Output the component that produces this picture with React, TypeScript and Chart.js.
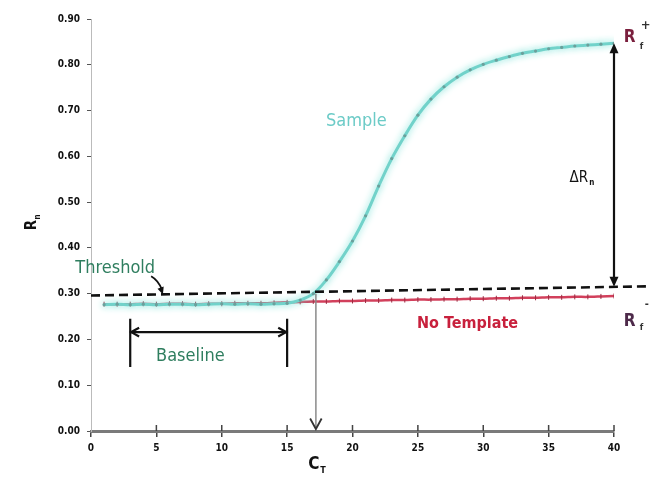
import React, { useEffect, useRef } from 'react';
import { Chart, registerables } from 'chart.js';

Chart.register(...registerables);

// ---- data ----
const cycles = [
  1, 2, 3, 4, 5, 6, 7, 8, 9, 10,
  11, 12, 13, 14, 15, 16, 17, 18, 19, 20,
  21, 22, 23, 24, 25, 26, 27, 28, 29, 30,
  31, 32, 33, 34, 35, 36, 37, 38, 39, 40,
];
const sampleRn = [
  0.276, 0.277, 0.276, 0.277, 0.276, 0.277, 0.277, 0.276, 0.277, 0.278,
  0.277, 0.278, 0.277, 0.278, 0.279, 0.286, 0.3, 0.33, 0.37, 0.415,
  0.47, 0.535, 0.595, 0.645, 0.69, 0.725, 0.752, 0.773, 0.789, 0.801,
  0.81, 0.818, 0.825, 0.83, 0.835, 0.838, 0.841, 0.843, 0.845, 0.847,
];
const noTemplateRn = [
  0.277, 0.277, 0.277, 0.278, 0.277, 0.278, 0.278, 0.277, 0.278, 0.278,
  0.279, 0.279, 0.279, 0.28, 0.281, 0.282, 0.283, 0.283, 0.284, 0.284,
  0.285, 0.285, 0.286, 0.286, 0.287, 0.287, 0.288, 0.288, 0.289, 0.289,
  0.29, 0.29, 0.291, 0.291, 0.292, 0.292, 0.293, 0.293, 0.294, 0.295,
];
const thresholdCycles = [0, 42.5];
const thresholdRn = [0.296, 0.316];
const xTicks = [0, 5, 10, 15, 20, 25, 30, 35, 40];
const yTicks = [0, 0.1, 0.2, 0.3, 0.4, 0.5, 0.6, 0.7, 0.8, 0.9];
const baselineCycles = [3, 15];
const ctCycle = 17.2;
const deltaRnRange = [0.315, 0.847];

const NARROW = "'Liberation Sans Narrow', 'DejaVu Sans Condensed', sans-serif";

function filledHead(ctx: CanvasRenderingContext2D, x: number, y: number, ang: number, size: number) {
  ctx.beginPath();
  ctx.moveTo(x, y);
  ctx.lineTo(x - size * Math.cos(ang - 0.42), y - size * Math.sin(ang - 0.42));
  ctx.lineTo(x - size * Math.cos(ang + 0.42), y - size * Math.sin(ang + 0.42));
  ctx.closePath();
  ctx.fill();
}

function openHead(ctx: CanvasRenderingContext2D, x: number, y: number, ang: number, size: number) {
  ctx.beginPath();
  ctx.moveTo(x - size * Math.cos(ang - 0.5), y - size * Math.sin(ang - 0.5));
  ctx.lineTo(x, y);
  ctx.lineTo(x - size * Math.cos(ang + 0.5), y - size * Math.sin(ang + 0.5));
  ctx.stroke();
}

const glowPlugin = {
  id: 'glow',
  beforeDatasetDraw(chart: any, args: any) {
    if (args.index === 1) {
      const ctx = chart.ctx;
      ctx.save();
      ctx.shadowColor = 'rgba(120,225,215,0.95)';
      ctx.shadowBlur = 7;
    }
  },
  afterDatasetDraw(chart: any, args: any) {
    if (args.index === 1) chart.ctx.restore();
  },
};

const annotPlugin = {
  id: 'annot',
  afterDraw(chart: any) {
    const { ctx, scales } = chart;
    const px = (v: number) => scales.x.getPixelForValue(v);
    const py = (v: number) => scales.y.getPixelForValue(v);
    ctx.save();

    // x ticks crossing the axis (upper part)
    ctx.strokeStyle = '#444';
    ctx.lineWidth = 1.5;
    const y0 = py(0);
    ctx.beginPath();
    xTicks.forEach((t) => {
      if (t === 0) return;
      const tx = px(t);
      ctx.moveTo(tx, y0);
      ctx.lineTo(tx, y0 - 6);
    });
    ctx.stroke();

    // Baseline bracket
    ctx.strokeStyle = '#111';
    ctx.fillStyle = '#111';
    ctx.lineWidth = 2.2;
    const bx0 = px(baselineCycles[0]);
    const bx1 = px(baselineCycles[1]);
    const bTop = py(0.245);
    const bBot = py(0.14);
    const bMid = py(0.216);
    ctx.beginPath();
    ctx.moveTo(bx0, bTop); ctx.lineTo(bx0, bBot);
    ctx.moveTo(bx1, bTop); ctx.lineTo(bx1, bBot);
    ctx.moveTo(bx0, bMid); ctx.lineTo(bx1, bMid);
    ctx.stroke();
    openHead(ctx, bx0 + 1, bMid, Math.PI, 9);
    openHead(ctx, bx1 - 1, bMid, 0, 9);

    // Threshold pointer
    ctx.lineWidth = 1.8;
    const tx0 = px(4.6), ty0 = py(0.338);
    const tx1 = px(5.5), ty1 = py(0.298);
    ctx.beginPath();
    ctx.moveTo(tx0, ty0);
    ctx.quadraticCurveTo(tx0 + 7, ty0 + 4, tx1 - 1, ty1 - 5);
    ctx.stroke();
    filledHead(ctx, tx1, ty1, Math.atan2(ty1 - (ty0 + 4), tx1 - (tx0 + 7)), 8);

    // Delta Rn arrow
    ctx.lineWidth = 2.2;
    const dx = px(40);
    const dTop = py(deltaRnRange[1]);
    const dBot = py(deltaRnRange[0]);
    ctx.beginPath();
    ctx.moveTo(dx, dTop + 6); ctx.lineTo(dx, dBot - 6);
    ctx.stroke();
    filledHead(ctx, dx, dTop, -Math.PI / 2, 11);
    filledHead(ctx, dx, dBot, Math.PI / 2, 11);

    // Ct drop line
    const cx = px(ctCycle);
    const cTop = py(0.3);
    const cBot = py(0) - 2;
    ctx.strokeStyle = '#8a8a8a';
    ctx.lineWidth = 1.5;
    ctx.beginPath();
    ctx.moveTo(cx, cTop); ctx.lineTo(cx, cBot);
    ctx.stroke();
    ctx.strokeStyle = '#333';
    ctx.lineWidth = 1.8;
    openHead(ctx, cx, cBot, Math.PI / 2, 12);

    // Texts
    ctx.textBaseline = 'middle';
    ctx.textAlign = 'left';
    ctx.fillStyle = '#2f7e5f';
    ctx.font = `18px ${NARROW}`;
    ctx.fillText('Threshold', px(-1.2), py(0.356));
    ctx.textAlign = 'center';
    ctx.fillText('Baseline', px(7.6), py(0.163));

    ctx.fillStyle = '#6ccbc7';
    ctx.fillText('Sample', px(20.3), py(0.677));

    ctx.fillStyle = '#c8203c';
    ctx.font = `bold 16px ${NARROW}`;
    ctx.fillText('No Template', px(28.8), py(0.233));

    // Delta Rn label
    ctx.fillStyle = '#111';
    ctx.textAlign = 'left';
    ctx.font = `15px ${NARROW}`;
    const dlx = px(36.6), dly = py(0.553);
    ctx.fillText('\u0394R', dlx, dly);
    const dw = ctx.measureText('\u0394R').width;
    ctx.font = `bold 8px ${NARROW}`;
    ctx.fillText('n', dlx + dw + 1, dly + 5);

    // Rf+ label
    ctx.fillStyle = '#7a1f3d';
    ctx.font = `bold 17px ${NARROW}`;
    const r1x = px(40.75), r1y = py(0.86);
    ctx.fillText('R', r1x, r1y);
    ctx.fillStyle = '#333';
    ctx.font = `bold 9px ${NARROW}`;
    ctx.fillText('f', r1x + 16, r1y + 9);
    ctx.font = `bold 13px ${NARROW}`;
    ctx.fillText('+', r1x + 17, r1y - 12);

    // Rf- label
    ctx.fillStyle = '#4d2a4a';
    ctx.font = `bold 17px ${NARROW}`;
    const r2x = px(40.75), r2y = py(0.24);
    ctx.fillText('R', r2x, r2y);
    ctx.fillStyle = '#333';
    ctx.font = `bold 9px ${NARROW}`;
    ctx.fillText('f', r2x + 16, r2y + 7);
    ctx.font = `bold 11px ${NARROW}`;
    ctx.fillText('-', r2x + 21, r2y - 17);

    // Ct label
    ctx.fillStyle = '#111';
    ctx.font = `bold 17px ${NARROW}`;
    ctx.textAlign = 'center';
    const ctlx = px(ctCycle) - 2, ctly = py(-0.074);
    ctx.fillText('C', ctlx, ctly);
    ctx.font = `bold 9px ${NARROW}`;
    ctx.fillText('T', ctlx + 9, ctly + 6);

    // Y title Rn (rotated)
    ctx.save();
    ctx.translate(32, py(0.45));
    ctx.rotate(-Math.PI / 2);
    ctx.textAlign = 'center';
    ctx.font = `bold 15px ${NARROW}`;
    ctx.fillStyle = '#111';
    ctx.fillText('R', 0, 0);
    ctx.font = `bold 8px ${NARROW}`;
    ctx.fillText('n', 8, 6);
    ctx.restore();

    ctx.restore();
  },
};

export default function App() {
  const ref = useRef<HTMLCanvasElement | null>(null);

  useEffect(() => {
    document.body.style.margin = '0';
    const canvas = ref.current;
    if (!canvas) return;
    const tickFont = { family: NARROW, size: 10, weight: 'bold' as const };
    const chart = new Chart(canvas, {
      type: 'line',
      data: {
        datasets: [
          {
            label: 'Threshold',
            data: thresholdCycles.map((c, i) => ({ x: c, y: thresholdRn[i] })),
            borderColor: '#111',
            borderWidth: 2.6,
            borderDash: [9, 5],
            pointRadius: 0,
            clip: false as any,
          },
          {
            label: 'Sample',
            data: cycles.map((c, i) => ({ x: c, y: sampleRn[i] })),
            borderColor: '#72d2ca',
            borderWidth: 3,
            tension: 0.35,
            pointRadius: 1.6,
            pointBackgroundColor: '#6b9f9b',
            pointBorderColor: '#6b9f9b',
            pointBorderWidth: 0,
          },
          {
            label: 'No Template',
            data: cycles.map((c, i) => ({ x: c, y: noTemplateRn[i] })),
            borderColor: '#d2405c',
            borderWidth: 2.5,
            tension: 0.2,
            pointStyle: 'line',
            rotation: 90,
            pointRadius: 2.5,
            pointBorderColor: '#9a2a40',
            pointBorderWidth: 1,
          },
        ],
      },
      options: {
        animation: false,
        responsive: false,
        maintainAspectRatio: false,
        layout: { padding: { left: 0, right: 51, top: 19, bottom: 0 } },
        plugins: { legend: { display: false }, tooltip: { enabled: false } },
        scales: {
          x: {
            type: 'linear',
            min: 0,
            max: 40,
            afterBuildTicks: (s: any) => { s.ticks = xTicks.map((v) => ({ value: v })); },
            afterFit: (s: any) => { s.height = 48; },
            grid: { drawOnChartArea: false, drawTicks: true, tickLength: 6, color: '#444', lineWidth: 1.5 },
            border: { color: '#7a7a7a', width: 3 },
            ticks: { font: tickFont, color: '#111', padding: 5, maxRotation: 0, autoSkip: false, callback: (v: any) => String(v) },
          },
          y: {
            type: 'linear',
            min: 0,
            max: 0.9,
            afterBuildTicks: (s: any) => { s.ticks = yTicks.map((v) => ({ value: v })); },
            afterFit: (s: any) => { s.width = 91; },
            grid: { drawOnChartArea: false, drawTicks: true, tickLength: 4, color: '#555' },
            border: { color: '#bbb', width: 1 },
            ticks: { font: tickFont, color: '#111', padding: 7, autoSkip: false, callback: (v: any) => Number(v).toFixed(2) },
          },
        },
      },
      plugins: [glowPlugin, annotPlugin],
    });
    return () => chart.destroy();
  }, []);

  return (
    <div style={{ position: 'absolute', left: 0, top: 0, width: 665, height: 479, background: '#fff' }}>
      <canvas ref={ref} width={665} height={479} style={{ display: 'block' }} />
    </div>
  );
}
